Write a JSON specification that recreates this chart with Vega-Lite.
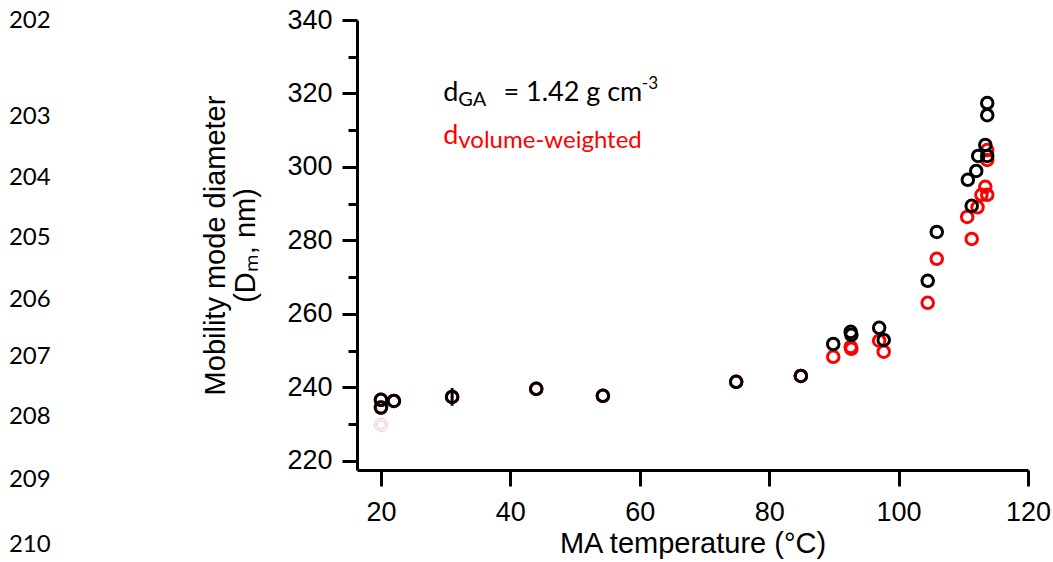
{
  "$schema": "https://vega.github.io/schema/vega-lite/v6.json",
  "width": 671,
  "height": 450,
  "autosize": {"type": "none"},
  "padding": {"left": 357, "top": 20, "right": 25, "bottom": 92},
  "background": "white",
  "config": {
    "view": {"stroke": null},
    "font": "Liberation Sans",
    "axis": {
      "grid": false,
      "domainColor": "black",
      "domainWidth": 3,
      "tickColor": "black",
      "tickWidth": 3,
      "labelColor": "black",
      "labelFont": "Liberation Sans",
      "labelFontSize": 27,
      "titleFont": "Liberation Sans",
      "titleFontSize": 29,
      "titleFontWeight": "normal",
      "titleColor": "black"
    }
  },
  "encoding": {
    "x": {
      "field": "T",
      "type": "quantitative",
      "scale": {"domain": [16.3, 120], "nice": false, "zero": false},
      "axis": {
        "title": "MA temperature (°C)",
        "values": [20, 40, 60, 80, 100, 120],
        "format": "d",
        "tickSize": 16,
        "labelPadding": 13,
        "titlePadding": 4,
        "labelFlush": false,
        "labelOverlap": false
      }
    },
    "y": {
      "field": "D",
      "type": "quantitative",
      "scale": {"domain": [217.5, 340], "nice": false, "zero": false},
      "axis": {
        "title": ["Mobility mode diameter", "(Dₘ, nm)"],
        "titleLineHeight": 30,
        "values": [220, 230, 240, 250, 260, 270, 280, 290, 300, 310, 320, 330, 340],
        "labelExpr": "datum.value % 20 === 0 ? datum.label : ''",
        "tickSize": {"condition": {"test": "datum.value % 20 === 0", "value": 15}, "value": 9},
        "labelPadding": 10,
        "titlePadding": 26,
        "labelFlush": false,
        "labelOverlap": false
      }
    }
  },
  "layer": [
    {
      "data": {"values": [{"T": 20.0, "D": 229.8}]},
      "mark": {"type": "point", "filled": false, "size": 170, "strokeWidth": 1, "color": "#f4a3a3"}
    },
    {
      "data": {"values": [{"T": 20.0, "D": 229.8}]},
      "mark": {"type": "point", "filled": false, "size": 70, "strokeWidth": 1, "color": "#f4a3a3"}
    },
    {
      "data": {"values": [{"T": 31.0, "D": 235.0, "D2": 239.8}]},
      "mark": {"type": "rule", "color": "black", "strokeWidth": 3},
      "encoding": {"y2": {"field": "D2"}}
    },
    {
      "data": {"values": [
        {"series": "volume-weighted", "T": 20.0, "D": 236.6},
        {"series": "volume-weighted", "T": 20.0, "D": 234.5},
        {"series": "volume-weighted", "T": 22.0, "D": 236.3},
        {"series": "volume-weighted", "T": 31.0, "D": 237.4},
        {"series": "volume-weighted", "T": 44.0, "D": 239.6},
        {"series": "volume-weighted", "T": 54.3, "D": 237.7},
        {"series": "volume-weighted", "T": 74.9, "D": 241.5},
        {"series": "volume-weighted", "T": 84.9, "D": 243.1},
        {"series": "volume-weighted", "T": 89.9, "D": 248.3},
        {"series": "volume-weighted", "T": 92.6, "D": 251.0},
        {"series": "volume-weighted", "T": 92.7, "D": 250.5},
        {"series": "volume-weighted", "T": 97.0, "D": 252.7},
        {"series": "volume-weighted", "T": 97.7, "D": 249.7},
        {"series": "volume-weighted", "T": 104.5, "D": 263.0},
        {"series": "volume-weighted", "T": 105.9, "D": 275.0},
        {"series": "volume-weighted", "T": 110.6, "D": 286.4},
        {"series": "volume-weighted", "T": 111.3, "D": 280.4},
        {"series": "volume-weighted", "T": 112.2, "D": 289.0},
        {"series": "volume-weighted", "T": 112.8, "D": 292.4},
        {"series": "volume-weighted", "T": 113.4, "D": 294.6},
        {"series": "volume-weighted", "T": 113.7, "D": 292.4},
        {"series": "volume-weighted", "T": 113.7, "D": 301.9},
        {"series": "volume-weighted", "T": 113.7, "D": 304.6},
        {"series": "GA", "T": 20.0, "D": 236.6},
        {"series": "GA", "T": 20.0, "D": 234.5},
        {"series": "GA", "T": 22.0, "D": 236.3},
        {"series": "GA", "T": 31.0, "D": 237.4},
        {"series": "GA", "T": 44.0, "D": 239.6},
        {"series": "GA", "T": 54.3, "D": 237.7},
        {"series": "GA", "T": 74.9, "D": 241.5},
        {"series": "GA", "T": 84.9, "D": 243.1},
        {"series": "GA", "T": 89.9, "D": 251.8},
        {"series": "GA", "T": 92.6, "D": 255.1},
        {"series": "GA", "T": 92.7, "D": 254.3},
        {"series": "GA", "T": 97.0, "D": 256.2},
        {"series": "GA", "T": 97.7, "D": 252.9},
        {"series": "GA", "T": 104.5, "D": 269.0},
        {"series": "GA", "T": 105.9, "D": 282.3},
        {"series": "GA", "T": 110.7, "D": 296.5},
        {"series": "GA", "T": 111.3, "D": 289.4},
        {"series": "GA", "T": 112.0, "D": 298.9},
        {"series": "GA", "T": 112.3, "D": 303.0},
        {"series": "GA", "T": 113.4, "D": 306.0},
        {"series": "GA", "T": 113.7, "D": 303.0},
        {"series": "GA", "T": 113.7, "D": 314.1},
        {"series": "GA", "T": 113.7, "D": 317.4}
      ]},
      "mark": {"type": "point", "filled": false, "size": 133, "strokeWidth": 3, "opacity": 1},
      "encoding": {
        "color": {
          "field": "series",
          "type": "nominal",
          "scale": {"domain": ["volume-weighted", "GA"], "range": ["#ff0000", "#000000"]},
          "legend": null
        }
      }
    },
    {
      "data": {"values": [
        {"T": 29.63, "D": 318.0, "label": "d"},
        {"T": 38.93, "D": 318.0, "label": "= 1.42 g cm"}
      ]},
      "mark": {"type": "text", "font": "Lato", "fontSize": 27, "color": "black", "align": "left", "baseline": "alphabetic"},
      "encoding": {"text": {"field": "label"}}
    },
    {
      "data": {"values": [{"T": 31.95, "D": 316.6, "label": "GA"}]},
      "mark": {"type": "text", "font": "Lato", "fontSize": 20, "color": "black", "align": "left", "baseline": "alphabetic"},
      "encoding": {"text": {"field": "label"}}
    },
    {
      "data": {"values": [{"T": 60.32, "D": 321.2, "label": "-3"}]},
      "mark": {"type": "text", "font": "Lato", "fontSize": 17, "color": "black", "align": "left", "baseline": "alphabetic"},
      "encoding": {"text": {"field": "label"}}
    },
    {
      "data": {"values": [{"T": 29.63, "D": 306.3, "label": "d"}]},
      "mark": {"type": "text", "font": "Lato", "fontSize": 27, "color": "#ff0000", "align": "left", "baseline": "alphabetic"},
      "encoding": {"text": {"field": "label"}}
    },
    {
      "data": {"values": [{"T": 31.95, "D": 305.2, "label": "volume-weighted"}]},
      "mark": {"type": "text", "font": "Lato", "fontSize": 24, "color": "#ff0000", "align": "left", "baseline": "alphabetic"},
      "encoding": {"text": {"field": "label"}}
    },
    {
      "data": {"values": [
        {"T": -37.5, "D": 339.7, "label": "202"},
        {"T": -37.5, "D": 313.6, "label": "203"},
        {"T": -37.5, "D": 297.0, "label": "204"},
        {"T": -37.5, "D": 280.7, "label": "205"},
        {"T": -37.5, "D": 263.8, "label": "206"},
        {"T": -37.5, "D": 248.3, "label": "207"},
        {"T": -37.5, "D": 231.9, "label": "208"},
        {"T": -37.5, "D": 214.8, "label": "209"},
        {"T": -37.5, "D": 197.1, "label": "210"}
      ]},
      "mark": {"type": "text", "font": "Lato", "fontSize": 24, "color": "black", "align": "left", "baseline": "middle"},
      "encoding": {"text": {"field": "label"}}
    }
  ]
}
